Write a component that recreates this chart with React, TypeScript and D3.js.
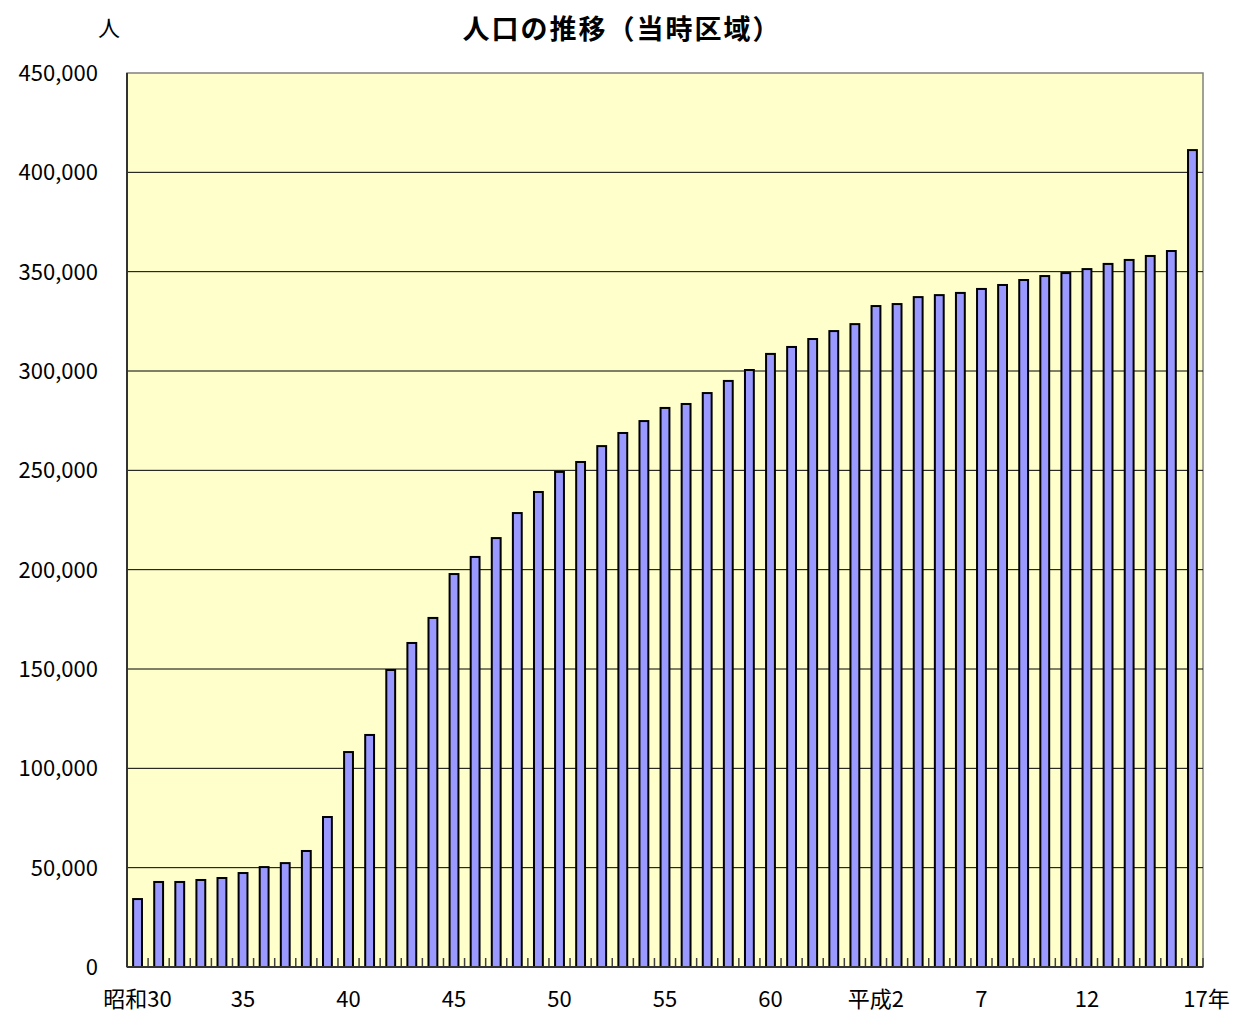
import React from 'react';
import * as d3 from 'd3';

const years = [
  '昭和30', '31', '32', '33', '34', '35', '36', '37', '38', '39',
  '40', '41', '42', '43', '44', '45', '46', '47', '48', '49',
  '50', '51', '52', '53', '54', '55', '56', '57', '58', '59',
  '60', '61', '62', '63', '平成元', '平成2', '3', '4', '5', '6',
  '7', '8', '9', '10', '11', '12', '13', '14', '15', '16', '17年',
];

const population = [
  34200, 42800, 42800, 43800, 44800, 47300, 50300, 52300, 58400, 75500,
  108200, 116800, 149500, 163100, 175700, 197800, 206400, 215900, 228500, 239100,
  249200, 254200, 262200, 268800, 274800, 281400, 283400, 288900, 295000, 300500,
  308600, 312100, 316100, 320100, 323600, 332700, 333700, 337200, 338200, 339300,
  341300, 343300, 345800, 347800, 349300, 351300, 353900, 355900, 357900, 360400,
  411200,
];

const shownLabels = ['昭和30', '35', '40', '45', '50', '55', '60', '平成2', '7', '12', '17年'];
const yTicks = [0, 50000, 100000, 150000, 200000, 250000, 300000, 350000, 400000, 450000];

const W = 1233;
const H = 1013;
const plotLeft = 127;
const plotRight = 1203;
const plotTop = 73;
const plotBottom = 967;
const font = '"Noto Sans CJK JP", "DejaVu Sans", sans-serif';

const App: React.FC = () => {
  const plotW = plotRight - plotLeft;
  const plotH = plotBottom - plotTop;

  const x = d3.scaleBand<string>()
    .domain(years)
    .range([0, plotW])
    .paddingInner(0.58)
    .paddingOuter(0.29);

  const step = x.step();
  const y = d3.scaleLinear().domain([0, 450000]).range([plotH, 0]);
  const fmt = d3.format(',');

  return (
    <svg width={W} height={H} style={{ position: 'absolute', left: 0, top: 0 }} fontFamily={font}>
      <text x={622} y={39} textAnchor="middle" fontSize={27} fontWeight="bold" letterSpacing={2} fill="#000">
        人口の推移（当時区域）
      </text>
      <text x={109} y={36} textAnchor="middle" fontSize={22} fill="#000">人</text>
      <g transform={`translate(${plotLeft},${plotTop})`}>
        <rect x={0} y={0} width={plotW} height={plotH} fill="#ffffcc" stroke="#808080" strokeWidth={1.5} />
        {yTicks.map(t => (
          <g key={t}>
            {t > 0 && t < 450000 && (
              <line x1={0} x2={plotW} y1={y(t)} y2={y(t)} stroke="#000" strokeWidth={1} />
            )}
            <text x={-29} y={y(t)} dy="0.36em" textAnchor="end" fontSize={22} fill="#000">
              {fmt(t)}
            </text>
          </g>
        ))}
        {population.map((v, i) => (
          <rect
            key={i}
            x={x(years[i])}
            y={y(v)}
            width={x.bandwidth()}
            height={plotH - y(v)}
            fill="#9999ff"
            stroke="#000"
            strokeWidth={2}
          />
        ))}
        {d3.range(years.length + 1).map(i => (
          <line
            key={i}
            x1={i * step}
            x2={i * step}
            y1={plotH}
            y2={plotH - 9}
            stroke="#404040"
            strokeWidth={1.5}
          />
        ))}
        <line x1={0} x2={0} y1={0} y2={plotH} stroke="#333" strokeWidth={2} />
        <line x1={0} x2={plotW} y1={plotH} y2={plotH} stroke="#333" strokeWidth={2} />
        {years.map((yr) => shownLabels.includes(yr) && (
          <text
            key={yr}
            x={(x(yr) ?? 0) + x.bandwidth() / 2 + (yr === '17年' ? 14 : 0)}
            y={plotH + 40}
            textAnchor="middle"
            fontSize={22}
            fill="#000"
          >
            {yr}
          </text>
        ))}
      </g>
    </svg>
  );
};

export default App;
